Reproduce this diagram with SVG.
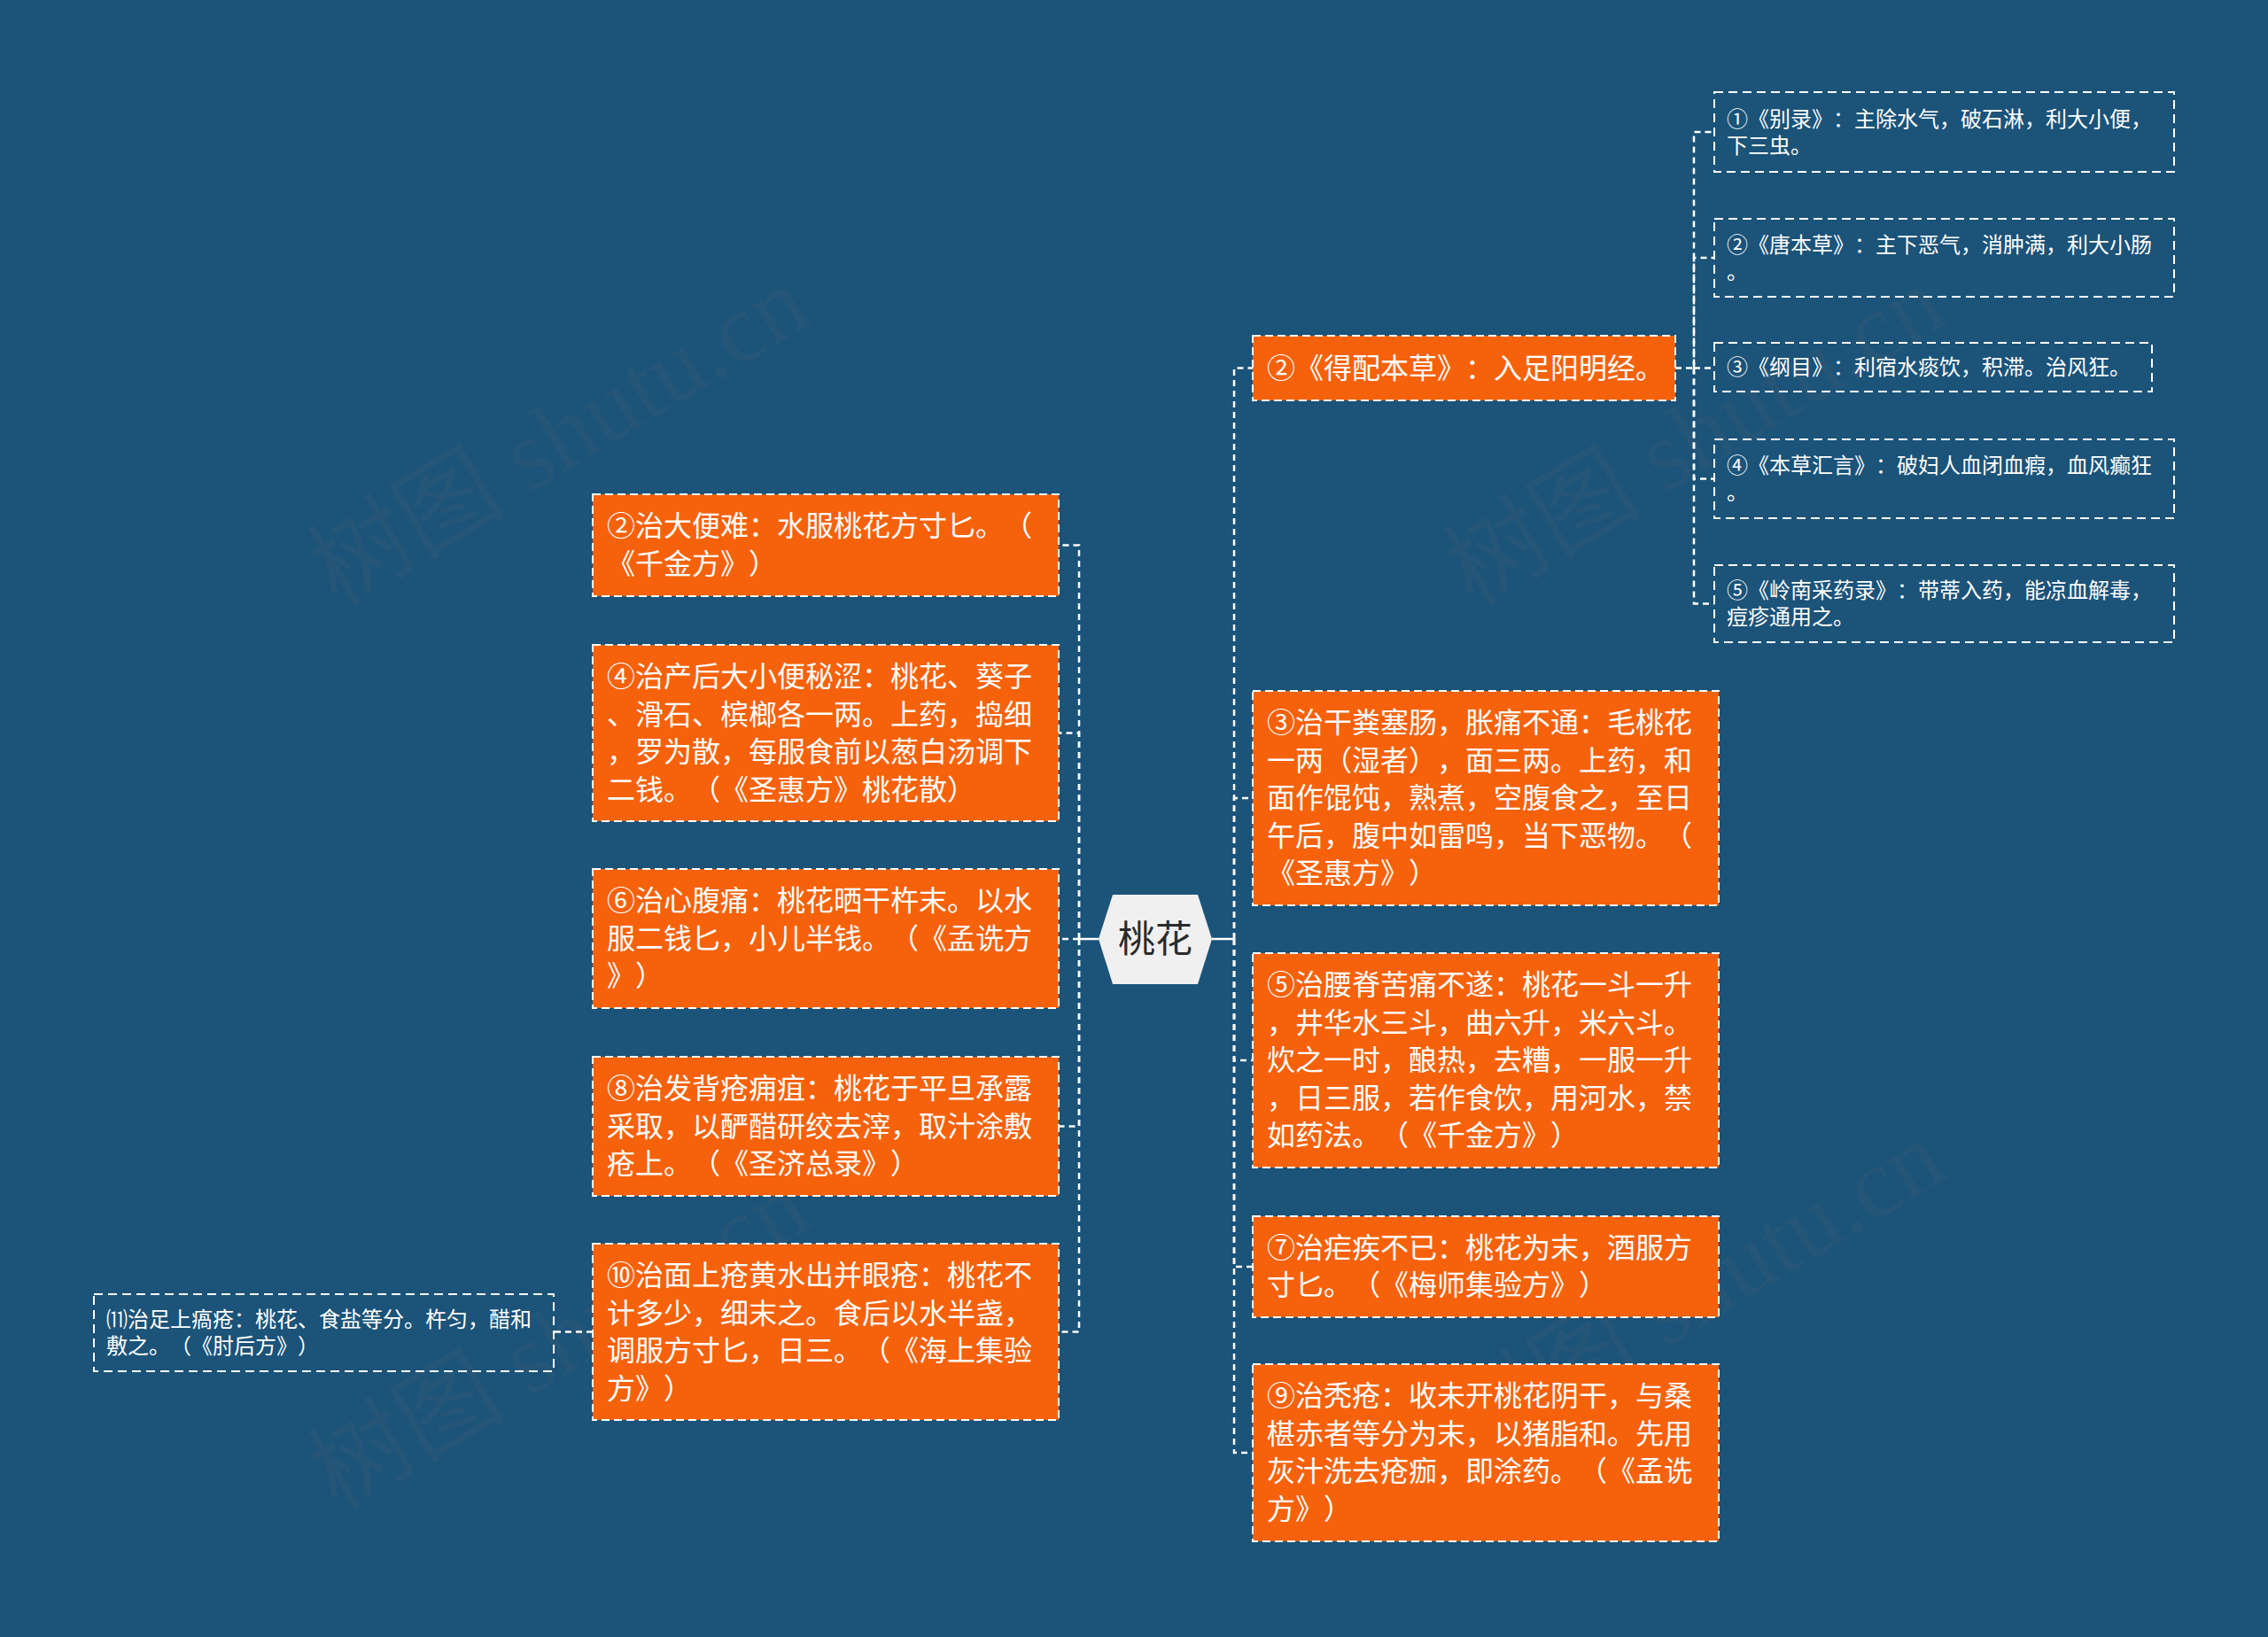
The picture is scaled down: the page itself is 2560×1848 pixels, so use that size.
<svg xmlns="http://www.w3.org/2000/svg" width="2560" height="1848" viewBox="0 0 2560 1848">
<style>
text{text-spacing-trim:space-all;font-feature-settings:"chws" 0,"halt" 0,"palt" 0}
.bg{fill:#1b5379}
.ob{fill:#f6620c;stroke:#ffffff;stroke-width:2;stroke-dasharray:9 5}
.bb{fill:none;stroke:#ffffff;stroke-width:2;stroke-dasharray:10 6}
.ot{font-family:"Noto Sans CJK SC","Noto Sans",sans-serif;font-size:32px;fill:#ffffff}
.bt{font-family:"Noto Sans CJK SC","Noto Sans",sans-serif;font-size:24px;fill:#ffffff}
.rt{font-family:"Noto Sans CJK SC","Noto Sans",sans-serif;font-size:42px;fill:#2b2b2b}
.cn{fill:none;stroke:#ffffff;stroke-width:2.5;stroke-dasharray:7 5}
.wm{font-family:"Liberation Serif","Noto Sans CJK SC",serif;font-size:112px;fill:#707070;opacity:0.13}
</style>
<rect class="bg" x="0" y="0" width="2560" height="1848"/>

<g id="watermarks">
<text class="wm" text-anchor="middle" transform="translate(650,525) rotate(-31)">树图 shutu.cn</text>
<text class="wm" text-anchor="middle" transform="translate(1932,525) rotate(-31)">树图 shutu.cn</text>
<text class="wm" text-anchor="middle" transform="translate(650,1545) rotate(-31)">树图 shutu.cn</text>
<text class="wm" text-anchor="middle" transform="translate(1932,1490) rotate(-31)">树图 shutu.cn</text>
</g>

<g id="connectors">
<path d="M1240,1060 H1218" fill="none" stroke="#fff" stroke-width="2.5"/>
<path d="M1368,1060 H1393" fill="none" stroke="#fff" stroke-width="2.5"/>
<path class="cn" d="M1218,1060 V615.5 H1195"/>
<path class="cn" d="M1218,1060 V827.5 H1195"/>
<path class="cn" d="M1218,1060 H1195"/>
<path class="cn" d="M1218,1060 V1271.5 H1195"/>
<path class="cn" d="M1218,1060 V1503.5 H1195"/>
<path class="cn" d="M1393,1060 V415.5 H1414"/>
<path class="cn" d="M1393,1060 V901 H1414"/>
<path class="cn" d="M1393,1060 V1197 H1414"/>
<path class="cn" d="M1393,1060 V1430 H1414"/>
<path class="cn" d="M1393,1060 V1640 H1414"/>
<path class="cn" d="M1891,415.5 H1912 V149 H1935"/>
<path class="cn" d="M1912,415.5 V291 H1935"/>
<path class="cn" d="M1912,415.5 H1935"/>
<path class="cn" d="M1912,415.5 V540.5 H1935"/>
<path class="cn" d="M1912,415.5 V681.5 H1935"/>
<path class="cn" d="M669,1503.5 H625"/>
</g>

<g id="root">
<polygon points="1240,1060 1256,1010 1352,1010 1368,1060 1352,1111 1256,1111" fill="#f0f0f0"/>
<text class="rt" x="1304" y="1075" text-anchor="middle">桃花</text>
</g>

<g id="left-2">
<rect class="ob" x="669" y="558" width="526" height="115"/>
<text class="ot" x="685" y="605">②治大便难：水服桃花方寸匕。（</text>
<text class="ot" x="685" y="647.5">《千金方》）</text>
</g>
<g id="left-4">
<rect class="ob" x="669" y="728" width="526" height="199"/>
<text class="ot" x="685" y="775">④治产后大小便秘涩：桃花、葵子</text>
<text class="ot" x="685" y="817.5">、滑石、槟榔各一两。上药，捣细</text>
<text class="ot" x="685" y="860">，罗为散，每服食前以葱白汤调下</text>
<text class="ot" x="685" y="902.5">二钱。（《圣惠方》桃花散）</text>
</g>
<g id="left-6">
<rect class="ob" x="669" y="981" width="526" height="157"/>
<text class="ot" x="685" y="1028">⑥治心腹痛：桃花晒干杵末。以水</text>
<text class="ot" x="685" y="1070.5">服二钱匕，小儿半钱。（《孟诜方</text>
<text class="ot" x="685" y="1113">》）</text>
</g>
<g id="left-8">
<rect class="ob" x="669" y="1193" width="526" height="157"/>
<text class="ot" x="685" y="1240">⑧治发背疮痈疽：桃花于平旦承露</text>
<text class="ot" x="685" y="1282.5">采取，以酽醋研绞去滓，取汁涂敷</text>
<text class="ot" x="685" y="1325">疮上。（《圣济总录》）</text>
</g>
<g id="left-10">
<rect class="ob" x="669" y="1404" width="526" height="199"/>
<text class="ot" x="685" y="1451">⑩治面上疮黄水出并眼疮：桃花不</text>
<text class="ot" x="685" y="1493.5">计多少，细末之。食后以水半盏，</text>
<text class="ot" x="685" y="1536">调服方寸匕，日三。（《海上集验</text>
<text class="ot" x="685" y="1578.5">方》）</text>
</g>
<g id="left-11">
<rect class="bb" x="106" y="1461" width="519" height="87"/>
<text class="bt" x="120" y="1498">⑾治足上瘑疮：桃花、食盐等分。杵匀，醋和</text>
<text class="bt" x="120" y="1528">敷之。（《肘后方》）</text>
</g>

<g id="right-2">
<rect class="ob" x="1414" y="379" width="477" height="73"/>
<text class="ot" x="1430" y="427">②《得配本草》：入足阳明经。</text>
</g>
<g id="right-3">
<rect class="ob" x="1414" y="780" width="526" height="242"/>
<text class="ot" x="1430" y="827">③治干粪塞肠，胀痛不通：毛桃花</text>
<text class="ot" x="1430" y="869.5">一两（湿者），面三两。上药，和</text>
<text class="ot" x="1430" y="912">面作馄饨，熟煮，空腹食之，至日</text>
<text class="ot" x="1430" y="954.5">午后，腹中如雷鸣，当下恶物。（</text>
<text class="ot" x="1430" y="997">《圣惠方》）</text>
</g>
<g id="right-5">
<rect class="ob" x="1414" y="1076" width="526" height="242"/>
<text class="ot" x="1430" y="1123">⑤治腰脊苦痛不遂：桃花一斗一升</text>
<text class="ot" x="1430" y="1165.5">，井华水三斗，曲六升，米六斗。</text>
<text class="ot" x="1430" y="1208">炊之一时，酿热，去糟，一服一升</text>
<text class="ot" x="1430" y="1250.5">，日三服，若作食饮，用河水，禁</text>
<text class="ot" x="1430" y="1293">如药法。（《千金方》）</text>
</g>
<g id="right-7">
<rect class="ob" x="1414" y="1373" width="526" height="114"/>
<text class="ot" x="1430" y="1419.5">⑦治疟疾不已：桃花为末，酒服方</text>
<text class="ot" x="1430" y="1462">寸匕。（《梅师集验方》）</text>
</g>
<g id="right-9">
<rect class="ob" x="1414" y="1540" width="526" height="200"/>
<text class="ot" x="1430" y="1587">⑨治秃疮：收未开桃花阴干，与桑</text>
<text class="ot" x="1430" y="1629.5">椹赤者等分为末，以猪脂和。先用</text>
<text class="ot" x="1430" y="1672">灰汁洗去疮痂，即涂药。（《孟诜</text>
<text class="ot" x="1430" y="1714.5">方》）</text>
</g>

<g id="sub-1">
<rect class="bb" x="1935" y="104" width="519" height="90"/>
<text class="bt" x="1949" y="143">①《别录》：主除水气，破石淋，利大小便，</text>
<text class="bt" x="1949" y="173">下三虫。</text>
</g>
<g id="sub-2">
<rect class="bb" x="1935" y="247" width="519" height="88"/>
<text class="bt" x="1949" y="285">②《唐本草》：主下恶气，消肿满，利大小肠</text>
<text class="bt" x="1949" y="315">。</text>
</g>
<g id="sub-3">
<rect class="bb" x="1935" y="387" width="494" height="55"/>
<text class="bt" x="1949" y="423">③《纲目》：利宿水痰饮，积滞。治风狂。</text>
</g>
<g id="sub-4">
<rect class="bb" x="1935" y="496" width="519" height="89"/>
<text class="bt" x="1949" y="534">④《本草汇言》：破妇人血闭血瘕，血风癫狂</text>
<text class="bt" x="1949" y="564">。</text>
</g>
<g id="sub-5">
<rect class="bb" x="1935" y="638" width="519" height="87"/>
<text class="bt" x="1949" y="675">⑤《岭南采药录》：带蒂入药，能凉血解毒，</text>
<text class="bt" x="1949" y="705">痘疹通用之。</text>
</g>
</svg>
